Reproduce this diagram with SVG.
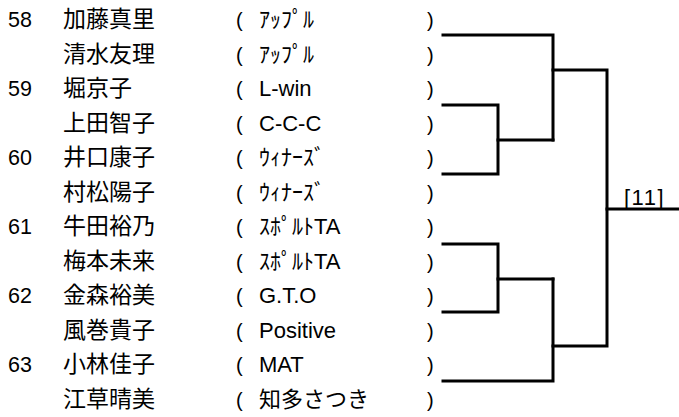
<svg xmlns="http://www.w3.org/2000/svg" width="679" height="417" viewBox="0 0 679 417">
<style>
text{font-family:"Liberation Sans","Noto Sans CJK JP",sans-serif;fill:#000}
.n{font-size:21.5px}
.nm{font-size:23px;font-family:"Noto Sans CJK JP",sans-serif}
.c{font-size:22px}
.p{font-size:20px}
.r{font-size:22px;letter-spacing:1.5px}
.ln{fill:none;stroke:#000;stroke-width:3;stroke-linecap:square}
</style>
<rect width="679" height="417" fill="#fff"/>
<g id="row1"><text class="n" x="8" y="27">58</text><text class="nm" x="63" y="27">加藤真里</text><text class="p" x="236" y="27">(</text><text class="c" x="259" y="27">ｱｯﾌﾟﾙ</text><text class="p" x="427" y="27">)</text></g>
<g id="row2"><text class="nm" x="63" y="61.5">清水友理</text><text class="p" x="236" y="61.5">(</text><text class="c" x="259" y="61.5">ｱｯﾌﾟﾙ</text><text class="p" x="427" y="61.5">)</text></g>
<g id="row3"><text class="n" x="8" y="96">59</text><text class="nm" x="63" y="96">堀京子</text><text class="p" x="236" y="96">(</text><text class="c" x="259" y="96">L-win</text><text class="p" x="427" y="96">)</text></g>
<g id="row4"><text class="nm" x="63" y="130.5">上田智子</text><text class="p" x="236" y="130.5">(</text><text class="c" x="259" y="130.5">C-C-C</text><text class="p" x="427" y="130.5">)</text></g>
<g id="row5"><text class="n" x="8" y="165">60</text><text class="nm" x="63" y="165">井口康子</text><text class="p" x="236" y="165">(</text><text class="c" x="259" y="165">ｳｨﾅｰｽﾞ</text><text class="p" x="427" y="165">)</text></g>
<g id="row6"><text class="nm" x="63" y="199.5">村松陽子</text><text class="p" x="236" y="199.5">(</text><text class="c" x="259" y="199.5">ｳｨﾅｰｽﾞ</text><text class="p" x="427" y="199.5">)</text></g>
<g id="row7"><text class="n" x="8" y="234">61</text><text class="nm" x="63" y="234">牛田裕乃</text><text class="p" x="236" y="234">(</text><text class="c" x="259" y="234">ｽﾎﾟﾙﾄTA</text><text class="p" x="427" y="234">)</text></g>
<g id="row8"><text class="nm" x="63" y="268.5">梅本未来</text><text class="p" x="236" y="268.5">(</text><text class="c" x="259" y="268.5">ｽﾎﾟﾙﾄTA</text><text class="p" x="427" y="268.5">)</text></g>
<g id="row9"><text class="n" x="8" y="303">62</text><text class="nm" x="63" y="303">金森裕美</text><text class="p" x="236" y="303">(</text><text class="c" x="259" y="303">G.T.O</text><text class="p" x="427" y="303">)</text></g>
<g id="row10"><text class="nm" x="63" y="337.5">風巻貴子</text><text class="p" x="236" y="337.5">(</text><text class="c" x="259" y="337.5">Positive</text><text class="p" x="427" y="337.5">)</text></g>
<g id="row11"><text class="n" x="8" y="372">63</text><text class="nm" x="63" y="372">小林佳子</text><text class="p" x="236" y="372">(</text><text class="c" x="259" y="372">MAT</text><text class="p" x="427" y="372">)</text></g>
<g id="row12"><text class="nm" x="63" y="406.5">江草晴美</text><text class="p" x="236" y="406.5">(</text><text class="c" x="259" y="406.5">知多さつき</text><text class="p" x="427" y="406.5">)</text></g>
<g id="result"><text class="r" x="624" y="205">[11]</text></g>
<g id="connectors">
<path class="ln" d="M443,35H553V140"/>
<path class="ln" d="M443,105H498V174H443"/>
<path class="ln" d="M498,140H553"/>
<path class="ln" d="M553,70H607V346H553"/>
<path class="ln" d="M607,209H679"/>
<path class="ln" d="M443,244H498V312H443"/>
<path class="ln" d="M498,279H553"/>
<path class="ln" d="M443,381H553V279"/>
</g>
</svg>
